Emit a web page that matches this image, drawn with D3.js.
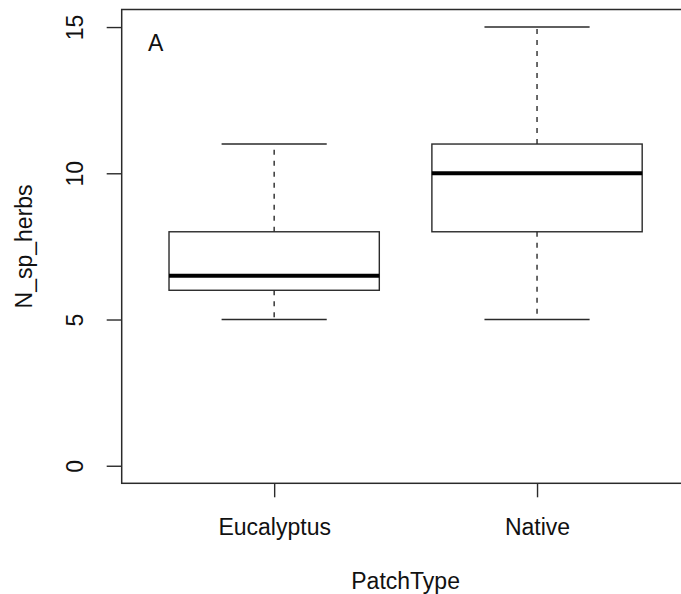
<!DOCTYPE html>
<html>
<head>
<meta charset="utf-8">
<script src="https://cdn.jsdelivr.net/npm/d3@7"></script>
<style>
  html, body { margin: 0; padding: 0; background: #fff; }
  svg { display: block; font-family: "Liberation Sans", Arial, Helvetica, sans-serif; }
</style>
</head>
<body>
<svg id="chart" width="681" height="594"></svg>
<script>
// ---- data ----
const categories   = ["Eucalyptus", "Native"];
const whiskerLow   = [5, 5];
const q1           = [6, 8];
const median       = [6.5, 10];
const q3           = [8, 11];
const whiskerHigh  = [11, 15];
const yTicks       = [0, 5, 10, 15];
const xLabel = "PatchType";
const yLabel = "N_sp_herbs";
const panelLabel = "A";

// ---- layout ----
const svg = d3.select("#chart");
const plotL = 121.7, plotR = 689.5, plotT = 9.5, plotB = 483.3;
const lineCol = "#2a2a2a", textCol = "#111";
const fontSize = 23;

const x = d3.scaleLinear().domain([0.42, 2.58]).range([plotL, plotR]);
const y = d3.scaleLinear().domain([-0.6, 15.6]).range([plotB, plotT]);

const boxes = categories.map((c, i) => ({
  name: c, pos: i + 1,
  lo: whiskerLow[i], q1: q1[i], med: median[i], q3: q3[i], hi: whiskerHigh[i]
}));

const g = svg.append("g");
const boxHalf = 0.4, stapleHalf = 0.2;

boxes.forEach(b => {
  g.append("line").attr("x1", x(b.pos)).attr("x2", x(b.pos))
    .attr("y1", y(b.q3)).attr("y2", y(b.hi))
    .attr("stroke", lineCol).attr("stroke-width", 1.4).attr("stroke-dasharray", "5,6");
  g.append("line").attr("x1", x(b.pos)).attr("x2", x(b.pos))
    .attr("y1", y(b.q1)).attr("y2", y(b.lo))
    .attr("stroke", lineCol).attr("stroke-width", 1.4).attr("stroke-dasharray", "5,6");
  [b.lo, b.hi].forEach(v => {
    g.append("line").attr("x1", x(b.pos - stapleHalf)).attr("x2", x(b.pos + stapleHalf))
      .attr("y1", y(v)).attr("y2", y(v))
      .attr("stroke", lineCol).attr("stroke-width", 1.4);
  });
  g.append("rect").attr("x", x(b.pos - boxHalf)).attr("y", y(b.q3))
    .attr("width", x(b.pos + boxHalf) - x(b.pos - boxHalf))
    .attr("height", y(b.q1) - y(b.q3))
    .attr("fill", "none").attr("stroke", lineCol).attr("stroke-width", 1.4);
  g.append("line").attr("x1", x(b.pos - boxHalf)).attr("x2", x(b.pos + boxHalf))
    .attr("y1", y(b.med)).attr("y2", y(b.med))
    .attr("stroke", "#000").attr("stroke-width", 4);
});

// frame
svg.append("rect").attr("x", plotL).attr("y", plotT)
  .attr("width", plotR - plotL).attr("height", plotB - plotT)
  .attr("fill", "none").attr("stroke", lineCol).attr("stroke-width", 1.5);

// y axis
const yAxis = svg.append("g").attr("transform", `translate(${plotL},0)`)
  .call(d3.axisLeft(y).tickValues(yTicks).tickSize(15).tickFormat(d3.format("d")));
yAxis.select(".domain").remove();
yAxis.selectAll(".tick line").attr("stroke", lineCol).attr("stroke-width", 1.4);
yAxis.selectAll(".tick text")
  .attr("x", null).attr("y", null).attr("dy", null)
  .attr("transform", "translate(-38.5,0) rotate(-90)")
  .attr("text-anchor", "middle")
  .attr("fill", textCol).style("font-size", fontSize + "px")
  .style("font-family", "'Liberation Sans', Arial, sans-serif");

// x axis
const xAxis = svg.append("g").attr("transform", `translate(0,${plotB})`)
  .call(d3.axisBottom(x).tickValues(boxes.map(b => b.pos)).tickSize(14)
    .tickFormat((d) => categories[d - 1]));
xAxis.select(".domain").remove();
xAxis.selectAll(".tick line").attr("stroke", lineCol).attr("stroke-width", 1.4);
xAxis.selectAll(".tick text")
  .attr("y", 51.7).attr("dy", null)
  .attr("fill", textCol).style("font-size", fontSize + "px")
  .style("font-family", "'Liberation Sans', Arial, sans-serif");

// axis titles
svg.append("text").attr("x", (plotL + plotR) / 2).attr("y", 589)
  .attr("text-anchor", "middle").attr("fill", textCol)
  .style("font-size", fontSize + "px").text(xLabel);
svg.append("text")
  .attr("transform", `translate(32,${(plotT + plotB) / 2}) rotate(-90)`)
  .attr("text-anchor", "middle").attr("fill", textCol)
  .style("font-size", fontSize + "px").text(yLabel);

// panel label
svg.append("text").attr("x", 148).attr("y", 51)
  .attr("fill", textCol).style("font-size", fontSize + "px").text(panelLabel);
</script>
</body>
</html>
